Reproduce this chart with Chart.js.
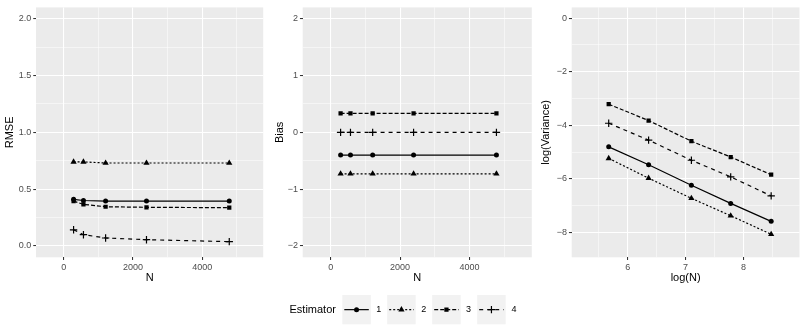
<!DOCTYPE html>
<html><head><meta charset="utf-8">
<script src="https://cdn.jsdelivr.net/npm/chart.js@4"></script>
<style>
body{margin:0;background:#fff;width:806px;height:330px;position:relative;overflow:hidden}
canvas{position:absolute}
</style></head>
<body>
<canvas id="c1" width="269" height="290" style="left:0px;top:0px"></canvas>
<canvas id="c2" width="269" height="290" style="left:269px;top:0px"></canvas>
<canvas id="c3" width="269" height="290" style="left:537px;top:0px"></canvas>
<canvas id="leg" width="806" height="40" style="left:0px;top:290px"></canvas>
<script>
// ---- data ----
const estimators = ['1', '2', '3', '4'];
const N = [285, 570, 1210, 2390, 4780];
const logN = [5.67, 6.36, 7.10, 7.78, 8.48];

const rmse1 = [0.41, 0.40, 0.395, 0.395, 0.395];
const rmse2 = [0.74, 0.74, 0.73, 0.73, 0.73];
const rmse3 = [0.395, 0.366, 0.345, 0.34, 0.337];
const rmse4 = [0.142, 0.099, 0.07, 0.055, 0.038];

const bias1 = [-0.40, -0.40, -0.40, -0.40, -0.40];
const bias2 = [-0.73, -0.73, -0.73, -0.73, -0.73];
const bias3 = [0.335, 0.335, 0.333, 0.333, 0.333];
const bias4 = [0.0, 0.0, 0.0, 0.0, 0.0];

const logvar1 = [-4.80, -5.47, -6.23, -6.91, -7.58];
const logvar2 = [-5.23, -5.97, -6.72, -7.37, -8.06];
const logvar3 = [-3.21, -3.82, -4.59, -5.18, -5.84];
const logvar4 = [-3.92, -4.55, -5.30, -5.92, -6.63];

// tick values and labels
const nMajor = [0, 2000, 4000];
const nMajorLabels = ['0', '2000', '4000'];
const nMinor = [1000, 3000, 5000];
const rmseMajor = [0, 0.5, 1, 1.5, 2];
const rmseMajorLabels = ['0.0', '0.5', '1.0', '1.5', '2.0'];
const rmseMinor = [0.25, 0.75, 1.25, 1.75];
const biasMajor = [-2, -1, 0, 1, 2];
const biasMajorLabels = ['\u22122', '\u22121', '0', '1', '2'];
const biasMinor = [-1.5, -0.5, 0.5, 1.5];
const lnMajor = [6, 7, 8];
const lnMajorLabels = ['6', '7', '8'];
const lnMinor = [5.5, 6.5, 7.5, 8.5];
const lvMajor = [-8, -6, -4, -2, 0];
const lvMajorLabels = ['\u22128', '\u22126', '\u22124', '\u22122', '0'];
const lvMinor = [-7, -5, -3, -1];

// ---- styles ----
const dashes = [[], [2, 2], [4, 2], [4, 4]];
const pStyles = ['circle', 'triangle', 'rect', 'cross'];
const pRadius = [2.5, 3.6, 3.0, 3.7];
const pBorder = [0, 0, 0, 1.2];

Chart.defaults.font.family = "'Liberation Sans', Arial, sans-serif";

const bgPlugin = {
  id: 'panelbg',
  beforeDraw(chart) {
    const {ctx, chartArea: a} = chart;
    ctx.save();
    ctx.fillStyle = '#EBEBEB';
    ctx.fillRect(a.left, a.top, a.right - a.left, a.bottom - a.top);
    ctx.restore();
  }
};

function axis(pos, min, max, major, labels, minor, title, fitSize, titlePad) {
  const all = major.concat(minor);
  const isMajor = v => major.indexOf(v) >= 0;
  return {
    type: 'linear', position: pos, min: min, max: max,
    afterBuildTicks: s => { s.ticks = all.slice().sort((a, b) => a - b).map(v => ({value: v})); },
    afterFit: s => { if (pos === 'left') s.width = fitSize; else s.height = fitSize; },
    ticks: {
      autoSkip: false, maxRotation: 0, minRotation: 0,
      padding: 2,
      color: '#4D4D4D',
      font: {size: 9},
      callback: v => { const i = major.indexOf(v); return i >= 0 ? labels[i] : ''; }
    },
    grid: {
      color: '#FFFFFF',
      lineWidth: c => (c.tick && isMajor(c.tick.value)) ? 1.07 : 0.53,
      tickColor: c => (c.tick && isMajor(c.tick.value)) ? '#333333' : 'rgba(0,0,0,0)',
      tickWidth: 1.07,
      tickLength: 2.75,
      drawTicks: true
    },
    border: {display: false},
    title: {display: true, text: title, color: '#000000', font: {size: 11, lineHeight: 1.2}, padding: titlePad}
  };
}

function makeDatasets(xs, series) {
  return series.map((ys, i) => ({
    label: estimators[i],
    data: xs.map((x, j) => ({x: x, y: ys[j]})),
    borderColor: '#000000',
    backgroundColor: '#000000',
    borderWidth: 1.2,
    borderDash: dashes[i],
    pointStyle: pStyles[i],
    pointRadius: pRadius[i],
    pointBorderWidth: pBorder[i],
    pointBorderColor: '#000000',
    pointBackgroundColor: '#000000',
    tension: 0,
    fill: false
  }));
}

function makeChart(id, xs, series, xAx, yAx, padRight) {
  return new Chart(document.getElementById(id), {
    type: 'line',
    data: {datasets: makeDatasets(xs, series)},
    options: {
      responsive: false, animation: false, devicePixelRatio: 1, events: [],
      layout: {padding: {left: 0, right: padRight, top: 5.3, bottom: 0}},
      plugins: {legend: {display: false}, tooltip: {enabled: false}},
      scales: {x: xAx, y: yAx}
    },
    plugins: [bgPlugin]
  });
}

makeChart('c1', N, [rmse1, rmse2, rmse3, rmse4],
  axis('bottom', -800, 5760, nMajor, nMajorLabels, nMinor, 'N', 32.7, {top: 0, bottom: 5.8}),
  axis('left', -0.1, 2.1, rmseMajor, rmseMajorLabels, rmseMinor, 'RMSE', 36, {top: 3.4, bottom: 0}),
  5.8);
makeChart('c2', N, [bias1, bias2, bias3, bias4],
  axis('bottom', -808, 5800, nMajor, nMajorLabels, nMinor, 'N', 32.7, {top: 0, bottom: 5.8}),
  axis('left', -2.2, 2.2, biasMajor, biasMajorLabels, biasMinor, 'Bias', 33.7, {top: 4.4, bottom: 0}),
  6.2);
makeChart('c3', logN, [logvar1, logvar2, logvar3, logvar4],
  axis('bottom', 5.03, 8.97, lnMajor, lnMajorLabels, lnMinor, 'log(N)', 32.7, {top: 0, bottom: 5.8}),
  axis('left', -8.92, 0.40, lvMajor, lvMajorLabels, lvMinor, 'log(Variance)', 34.7, {top: 2.4, bottom: 0}),
  6.5);

// ---- legend ----
(function () {
  const cv = document.getElementById('leg');
  const ctx = cv.getContext('2d');
  ctx.font = "11px 'Liberation Sans', Arial, sans-serif";
  ctx.fillStyle = '#000000';
  ctx.textBaseline = 'middle';
  ctx.fillText('Estimator', 289.5, 20);
  const boxX = [342.3, 387.2, 432.2, 477.2];
  const labX = [376.2, 421.2, 466.0, 511.5];
  const bw = 28.5, by = 5, bh = 29.3;
  estimators.forEach((lab, i) => {
    ctx.fillStyle = '#F2F2F2';
    ctx.fillRect(boxX[i], by, bw, bh);
    const cy = by + bh / 2, cx = boxX[i] + bw / 2;
    ctx.save();
    ctx.strokeStyle = '#000000';
    ctx.lineWidth = 1.2;
    ctx.setLineDash(dashes[i]);
    ctx.beginPath();
    ctx.moveTo(boxX[i] + 2, cy);
    ctx.lineTo(boxX[i] + bw - 2, cy);
    ctx.stroke();
    ctx.restore();
    ctx.fillStyle = '#000000';
    ctx.strokeStyle = '#000000';
    const r = pRadius[i];
    ctx.beginPath();
    if (pStyles[i] === 'circle') {
      ctx.arc(cx, cy, r, 0, Math.PI * 2); ctx.fill();
    } else if (pStyles[i] === 'triangle') {
      const half = r * Math.sqrt(3) / 2;
      ctx.moveTo(cx, cy - r); ctx.lineTo(cx + half, cy + r / 2); ctx.lineTo(cx - half, cy + r / 2); ctx.closePath(); ctx.fill();
    } else if (pStyles[i] === 'rect') {
      const s = r * Math.SQRT1_2; ctx.fillRect(cx - s, cy - s, 2 * s, 2 * s);
    } else {
      ctx.lineWidth = pBorder[i];
      ctx.moveTo(cx - r, cy); ctx.lineTo(cx + r, cy); ctx.moveTo(cx, cy - r); ctx.lineTo(cx, cy + r); ctx.stroke();
    }
    ctx.fillStyle = '#000000';
    ctx.font = "9px 'Liberation Sans', Arial, sans-serif";
    ctx.fillText(lab, labX[i], cy);
  });
})();
</script>
</body></html>
